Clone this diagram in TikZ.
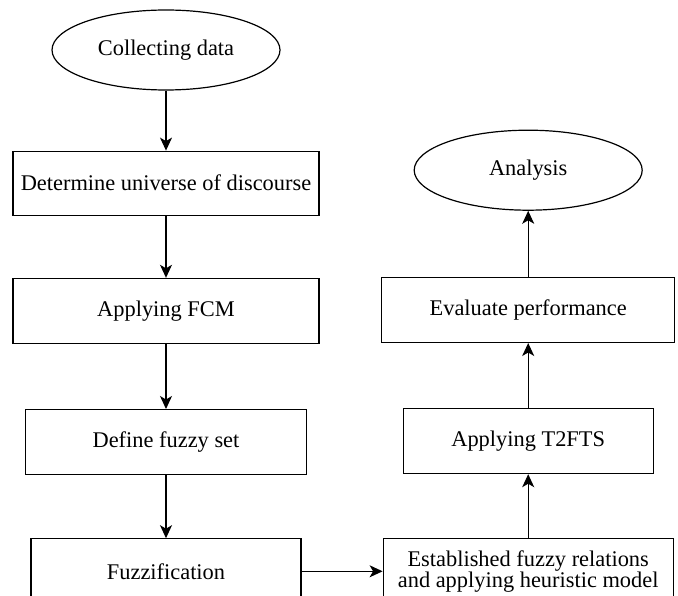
\documentclass[tikz,border=0pt]{standalone}
\usepackage{fontspec}
\setmainfont{Liberation Serif}
\usepackage{tikz}
\usetikzlibrary{positioning,arrows.meta,shapes.geometric}

\begin{document}
\begin{tikzpicture}[x=1pt,y=1pt,line width=1.2pt,
    >={Stealth[length=13pt,width=12pt,inset=3.5pt]},
    box/.style={draw,rectangle,minimum height=65pt,inner sep=0pt,
      font=\fontsize{22.4}{21}\selectfont,align=center},
    oval/.style={draw,ellipse,minimum width=228pt,minimum height=80pt,
      inner sep=0pt,font=\fontsize{22.4}{21}\selectfont}]

  \useasboundingbox (0,0) rectangle (678,-596);
  \clip (0,0) rectangle (678,-596);

  \node[oval] (p0) at (166,-50) {Collecting data};
  \node[box,minimum width=306pt,minimum height=64pt] (p1) [below=60pt of p0] {Determine universe of discourse};
  \node[box,minimum width=306pt] (p2) [below=62pt of p1] {Applying FCM};
  \node[box,minimum width=281pt] (p3) [below=65pt of p2] {Define fuzzy set};
  \node[box,minimum width=270pt] (p4) [below=63pt of p3] {Fuzzification};
  \node[box,minimum width=290pt] (p5) [right=81pt of p4] {Established fuzzy relations\\and applying heuristic model};
  \node[box,minimum width=250pt] (p6) [above=64pt of p5] {Applying T2FTS};
  \node[box,minimum width=293pt] (p7) [above=65pt of p6] {Evaluate performance};
  \node[oval] (p8) [above=66pt of p7] {Analysis};

  \path[->] (p0) edge (p1);
  \path[->] (p1) edge (p2);
  \path[->] (p2) edge (p3);
  \path[->] (p3) edge (p4);
  \path[->] (p4) edge (p5);
  \path[->] (p5) edge (p6);
  \path[->] (p6) edge (p7);
  \path[->] (p7) edge (p8);

\end{tikzpicture}
\end{document}
